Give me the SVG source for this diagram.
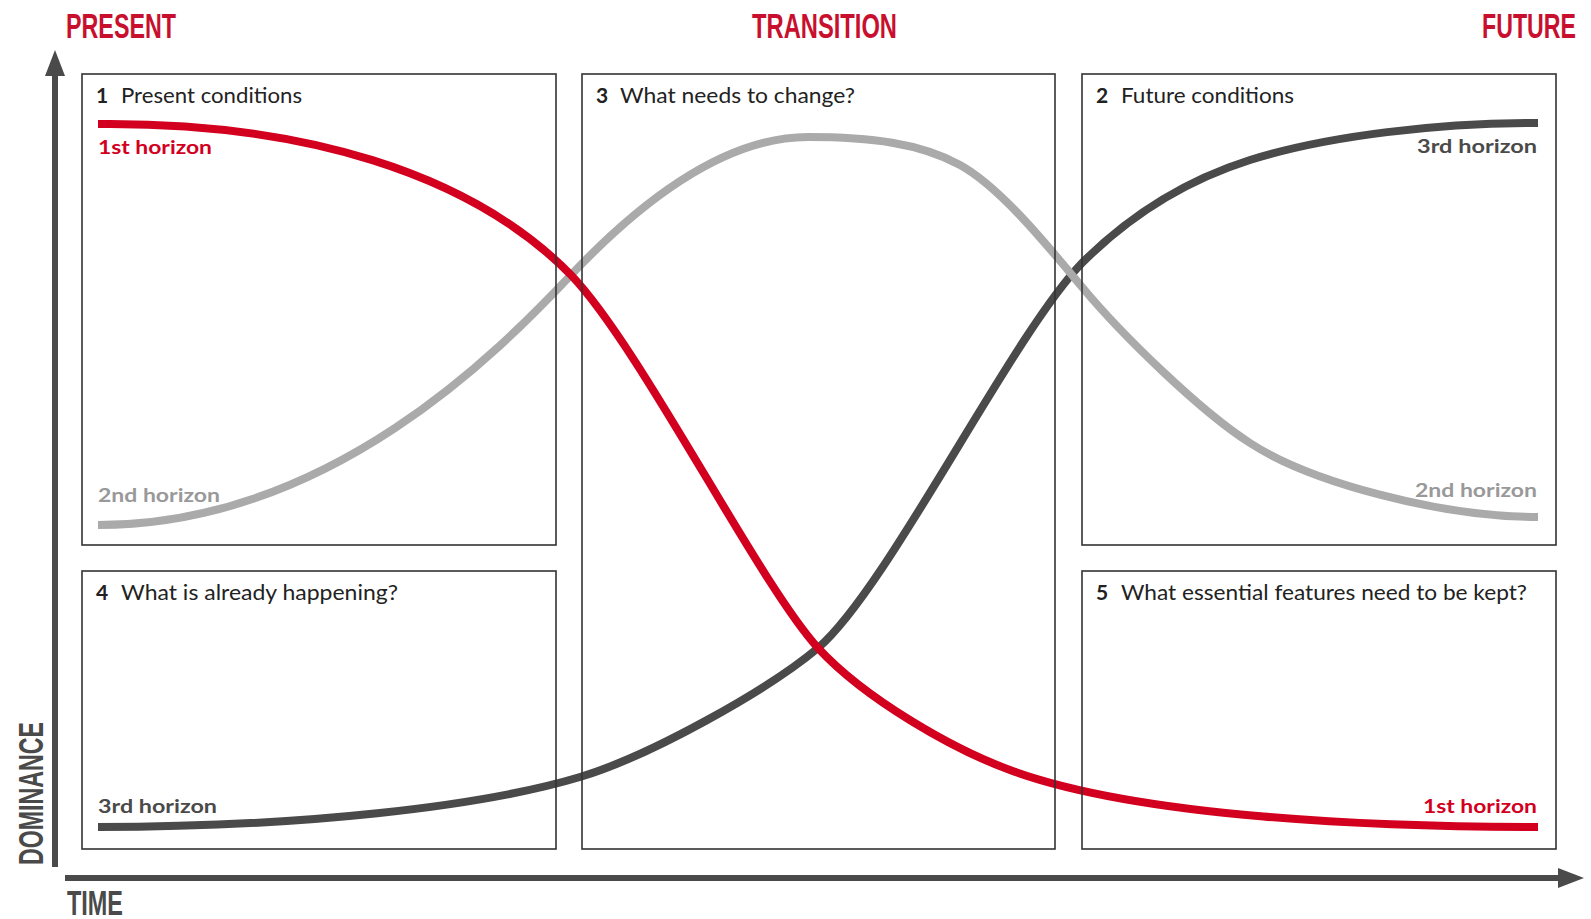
<svg xmlns="http://www.w3.org/2000/svg" width="1591" height="919" viewBox="0 0 1591 919">
<defs>
<style>
.box{fill:none;stroke:#333;stroke-width:1.6}
.num{font-family:Lato,"Open Sans","Liberation Sans",sans-serif;font-weight:700;font-size:21px;fill:#222}
.ttl{font-family:Lato,"Open Sans","Liberation Sans",sans-serif;font-size:21px;fill:#222}
.lbl{font-family:Lato,"Open Sans","Liberation Sans",sans-serif;font-weight:700;font-size:19px}
.head{font-family:"Liberation Sans",Arial,sans-serif;font-weight:700;font-size:35px;fill:#c8102e}
.axl{font-family:"Liberation Sans",Arial,sans-serif;font-weight:700;font-size:35px;fill:#4a4a4a}
.curve{fill:none;stroke-width:8;stroke-linecap:butt}
.axis{stroke:#4a4a4a;stroke-width:6;fill:none}
</style>
<marker id="arr" viewBox="0 0 26 20" markerWidth="26" markerHeight="20" refX="2" refY="10" orient="auto" markerUnits="userSpaceOnUse">
<path d="M0,0 L26,10 L0,20 z" fill="#4a4a4a"/>
</marker>
</defs>
<rect x="0" y="0" width="1591" height="919" fill="#fff"/>

<g id="headings">
<text class="head" x="66" y="38" textLength="110" lengthAdjust="spacingAndGlyphs">PRESENT</text>
<text class="head" x="752" y="38" textLength="145" lengthAdjust="spacingAndGlyphs">TRANSITION</text>
<text class="head" x="1482" y="38" textLength="94" lengthAdjust="spacingAndGlyphs">FUTURE</text>
</g>

<g id="connectors">
<line class="axis" x1="55" y1="867" x2="55" y2="74" marker-end="url(#arr)"/>
<line class="axis" x1="65" y1="878" x2="1560" y2="878" marker-end="url(#arr)"/>
<path id="third-horizon" class="curve" stroke="#4a4a4a" d="M98,827 C300,827 480,807 580,777 C650,756 768,690 818,648 C888,588 1012,335 1082,263 C1132,213 1190,179 1250,160 C1330,135 1440,123 1538,123"/>
<path id="second-horizon" class="curve" stroke="#aaaaaa" d="M98,525 C330,525 500,350 571,275 C661,180 740,137 808,137 C870,137 920,143 960,165 C1000,187 1047,245 1082,287 C1122,335 1200,411 1250,443 C1310,482 1440,517 1538,517"/>
<path id="first-horizon" class="curve" stroke="#d2001e" d="M98,124 C300,122 470,172 571,275 C641,348 758,582 818,648 C866,700 955,750 1010,770 C1140,818 1380,827 1538,827"/>
</g>

<g id="axis-labels">
<text class="axl" x="67" y="915" textLength="56" lengthAdjust="spacingAndGlyphs">TIME</text>
<text class="axl" transform="translate(43,865) rotate(-90)" x="0" y="0" textLength="143" lengthAdjust="spacingAndGlyphs">DOMINANCE</text>
</g>

<g id="box1">
<rect class="box" x="82" y="74" width="474" height="471"/>
<text class="num" x="96" y="103">1</text>
<text class="ttl" x="121" y="103" textLength="181" lengthAdjust="spacingAndGlyphs">Present conditions</text>
<text class="lbl" x="98" y="154" fill="#d2001e" textLength="114" lengthAdjust="spacingAndGlyphs">1st horizon</text>
<text class="lbl" x="98" y="502" fill="#999999" textLength="122" lengthAdjust="spacingAndGlyphs">2nd horizon</text>
</g>

<g id="box3">
<rect class="box" x="582" y="74" width="473" height="775"/>
<text class="num" x="596" y="103">3</text>
<text class="ttl" x="620" y="103" textLength="235" lengthAdjust="spacingAndGlyphs">What needs to change?</text>
</g>

<g id="box2">
<rect class="box" x="1082" y="74" width="474" height="471"/>
<text class="num" x="1096" y="103">2</text>
<text class="ttl" x="1121" y="103" textLength="173" lengthAdjust="spacingAndGlyphs">Future conditions</text>
<text class="lbl" x="1537" y="153" fill="#4a4a4a" text-anchor="end" textLength="120" lengthAdjust="spacingAndGlyphs">3rd horizon</text>
<text class="lbl" x="1537" y="497" fill="#999999" text-anchor="end" textLength="122" lengthAdjust="spacingAndGlyphs">2nd horizon</text>
</g>

<g id="box4">
<rect class="box" x="82" y="571" width="474" height="278"/>
<text class="num" x="96" y="600">4</text>
<text class="ttl" x="121" y="600" textLength="277" lengthAdjust="spacingAndGlyphs">What is already happening?</text>
<text class="lbl" x="98" y="813" fill="#4a4a4a" textLength="119" lengthAdjust="spacingAndGlyphs">3rd horizon</text>
</g>

<g id="box5">
<rect class="box" x="1082" y="571" width="474" height="278"/>
<text class="num" x="1096" y="600">5</text>
<text class="ttl" x="1121" y="600" textLength="406" lengthAdjust="spacingAndGlyphs">What essential features need to be kept?</text>
<text class="lbl" x="1537" y="813" fill="#d2001e" text-anchor="end" textLength="114" lengthAdjust="spacingAndGlyphs">1st horizon</text>
</g>
</svg>
